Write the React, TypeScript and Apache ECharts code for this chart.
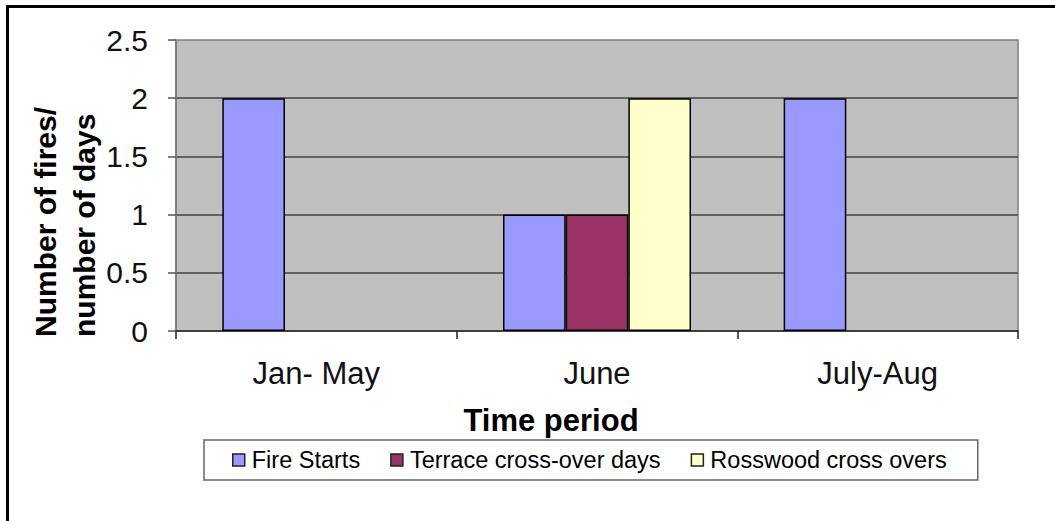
import React, { useEffect, useRef } from "react";
import * as echarts from "echarts";

const categories = ["Jan- May", "June", "July-Aug"];
const fireStarts = [2, 1, 2];
const terraceCrossOver = [null, 1, null];
const rosswoodCrossOvers = [null, 2, null];
const seriesNames = ["Fire Starts", "Terrace cross-over days", "Rosswood cross overs"];
const seriesColors = ["#9999FF", "#993366", "#FFFFCC"];
const yTitleLines = ["Number of fires/", "number of days"];
const xTitle = "Time period";

const FONT = "'Liberation Sans', Arial, sans-serif";

export default function App() {
  const ref = useRef<HTMLDivElement>(null);
  useEffect(() => {
    if (!ref.current) return;
    const chart = echarts.init(ref.current, null, { renderer: "svg" });
    const values = [fireStarts, terraceCrossOver, rosswoodCrossOvers];
    chart.setOption({
      animation: false,
      backgroundColor: "#ffffff",
      textStyle: { fontFamily: FONT },
      grid: {
        left: 176,
        right: 37,
        top: 40,
        bottom: 190,
        show: true,
        backgroundColor: "#C0C0C0",
        borderColor: "#808080",
        borderWidth: 1.5,
      },
      legend: {
        left: 204,
        top: 440,
        padding: [8, 31, 8, 28],
        borderColor: "#666666",
        borderWidth: 1.5,
        backgroundColor: "#ffffff",
        itemGap: 30,
        itemWidth: 12,
        itemHeight: 12,
        icon: "rect",
        itemStyle: { borderColor: "#222222", borderWidth: 1.5 },
        textStyle: { fontFamily: FONT, fontSize: 23.5, color: "#000", padding: [0, 0, 0, 2] },
        data: seriesNames,
      },
      xAxis: {
        type: "category",
        data: categories,
        boundaryGap: true,
        axisLine: { show: true, lineStyle: { color: "#222222", width: 1.5 } },
        axisTick: { show: true, length: 8, alignWithLabel: false, lineStyle: { color: "#222222", width: 1.5 } },
        axisLabel: { fontFamily: FONT, fontSize: 31, color: "#111", margin: 27 },
        splitLine: { show: false },
      },
      yAxis: {
        type: "value",
        min: 0,
        max: 2.5,
        interval: 0.5,
        axisLine: { show: true, lineStyle: { color: "#777777", width: 1.5 } },
        axisTick: { show: true, length: 8, lineStyle: { color: "#555555", width: 1.5 } },
        axisLabel: { fontFamily: FONT, fontSize: 30, color: "#111", margin: 28 },
        splitLine: { show: true, showMaxLine: false, showMinLine: false, lineStyle: { color: "#444444", width: 1.5 } },
      },
      series: seriesNames.map((name, i) => ({
        name,
        type: "bar",
        data: values[i],
        barGap: "0%",
        barCategoryGap: "33%",
        itemStyle: { color: seriesColors[i], borderColor: "#000000", borderWidth: 1.5 },
      })),
      graphic: [
        {
          type: "rect",
          silent: true,
          shape: { x: 7.5, y: 6.5, width: 1200, height: 800 },
          style: { fill: "none", stroke: "#000000", lineWidth: 3 },
          z: 100,
        },
        {
          type: "text",
          x: 45,
          y: 337,
          rotation: Math.PI / 2,
          style: {
            text: yTitleLines[0],
            fontFamily: FONT,
            fontSize: 30,
            fontWeight: "bold",
            fill: "#000",
            align: "left",
            verticalAlign: "middle",
          },
        },
        {
          type: "text",
          x: 84,
          y: 337,
          rotation: Math.PI / 2,
          style: {
            text: yTitleLines[1],
            fontFamily: FONT,
            fontSize: 30,
            fontWeight: "bold",
            fill: "#000",
            align: "left",
            verticalAlign: "middle",
          },
        },
        {
          type: "text",
          x: 551,
          y: 420,
          style: {
            text: xTitle,
            fontFamily: FONT,
            fontSize: 31,
            fontWeight: "bold",
            fill: "#000",
            align: "center",
            verticalAlign: "middle",
          },
        },
      ],
    });
    return () => chart.dispose();
  }, []);
  return (
    <div
      ref={ref}
      style={{ position: "fixed", left: 0, top: 0, width: 1055, height: 521 }}
    />
  );
}
